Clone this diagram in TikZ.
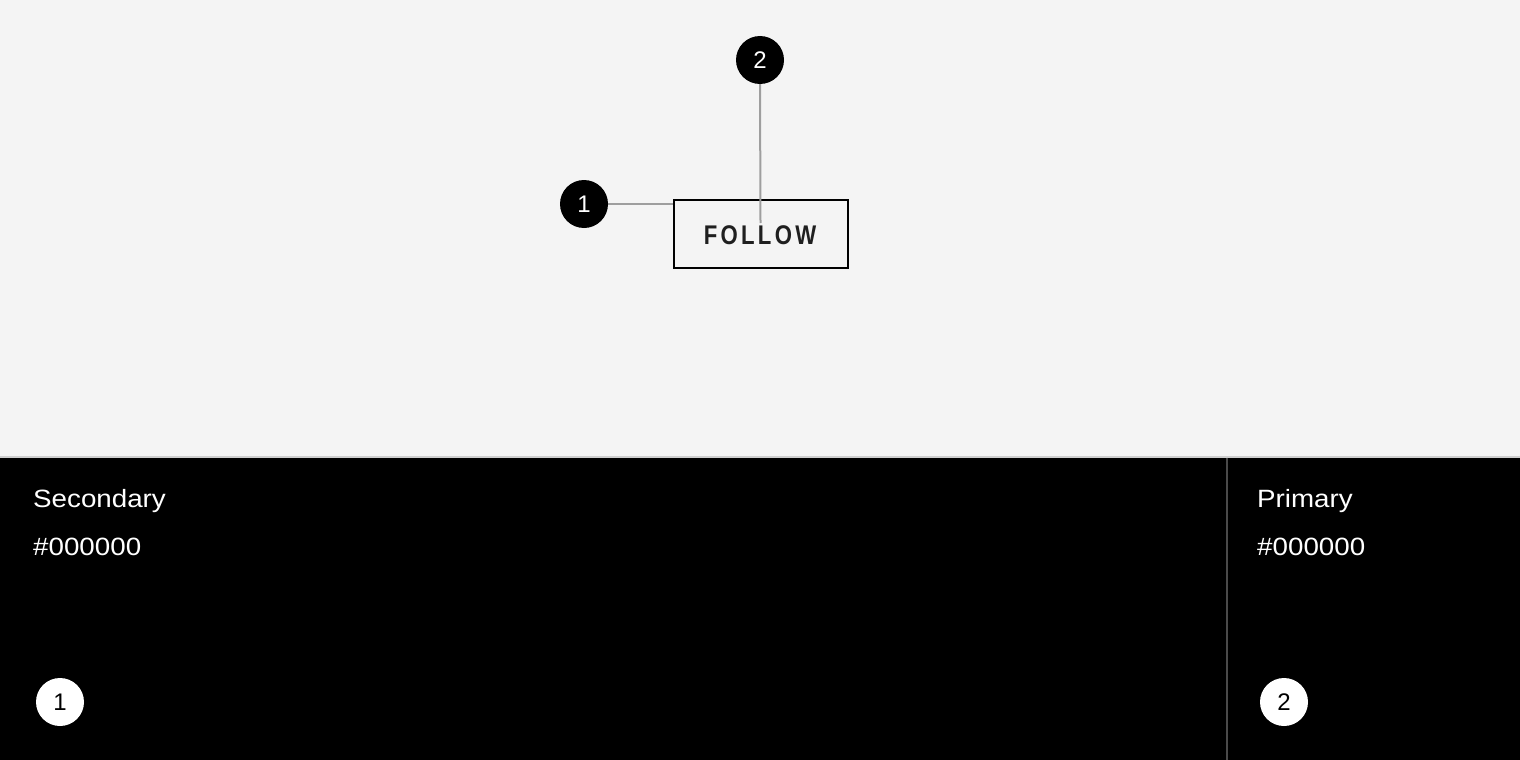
\documentclass[tikz,border=0pt]{standalone}
\usepackage{fontspec}
\setmainfont{Liberation Sans}
\newfontfamily\btnfont[FakeStretch=0.82]{Liberation Sans}
\newfontfamily\lblfont[FakeStretch=1.11]{Liberation Sans}
\definecolor{bgtop}{HTML}{F4F4F4}
\definecolor{sepline}{HTML}{CFCFCF}
\definecolor{divline}{HTML}{4A4A4A}
\definecolor{leader}{HTML}{9E9E9E}
\definecolor{btntext}{HTML}{1F1F1F}
\tikzset{
  badgedark/.style={circle, fill=black, minimum size=48pt, inner sep=0pt, text=white, font=\fontsize{24}{24}\selectfont},
  badgelight/.style={circle, fill=white, minimum size=48pt, inner sep=0pt, text=black, font=\fontsize{24}{24}\selectfont},
  leaderline/.style={draw=leader, line width=2pt},
  btnbox/.style={draw=black, line width=2pt, minimum width=174pt, minimum height=68pt, inner sep=0pt},
  swatchlabel/.style={anchor=base west, text=white, inner sep=0pt, font=\lblfont\fontsize{25}{25}\selectfont}
}
\newcommand{\trk}{\kern3.3pt}
\begin{document}
\begin{tikzpicture}[x=1pt,y=-1pt]
\useasboundingbox (0,0) rectangle (1520,760);
% backgrounds
\fill[bgtop] (0,0) rectangle (1520,456.5);
\fill[black] (0,456.5) rectangle (1520,760);
\draw[sepline, line width=2pt] (0,456.5) -- (1520,456.5);
\draw[divline, line width=2pt] (1227,457.5) -- (1227,760);
% button
\node[btnbox] (btn) at (761,234) {};
\node[text=btntext, inner sep=0pt, anchor=base] (btntxt) at (760,244) {\btnfont\bfseries\fontsize{27}{27}\selectfont F\trk O\trk L\trk L\trk O\trk W};
% badges
\node[badgedark] (b1) at (584,204) {1};
\node[badgedark] (b2) at (760,60) {2};
\coordinate (b1end) at (673,204);
\coordinate (b2end) at (760.5,223);
\draw[leaderline] (b1.east) -- (b1end);
\draw[leaderline] (b2.south) -- (b2end);
% bottom panel
\node[swatchlabel] (sec) at (33,507) {Secondary};
\node[swatchlabel] (seccol) at (33,555) {\#000000};
\node[swatchlabel] (pri) at (1257,507) {Primary};
\node[swatchlabel] (pricol) at (1257,555) {\#000000};
\node[badgelight] (l1) at (60,702) {1};
\node[badgelight] (l2) at (1284,702) {2};
\end{tikzpicture}
\end{document}
